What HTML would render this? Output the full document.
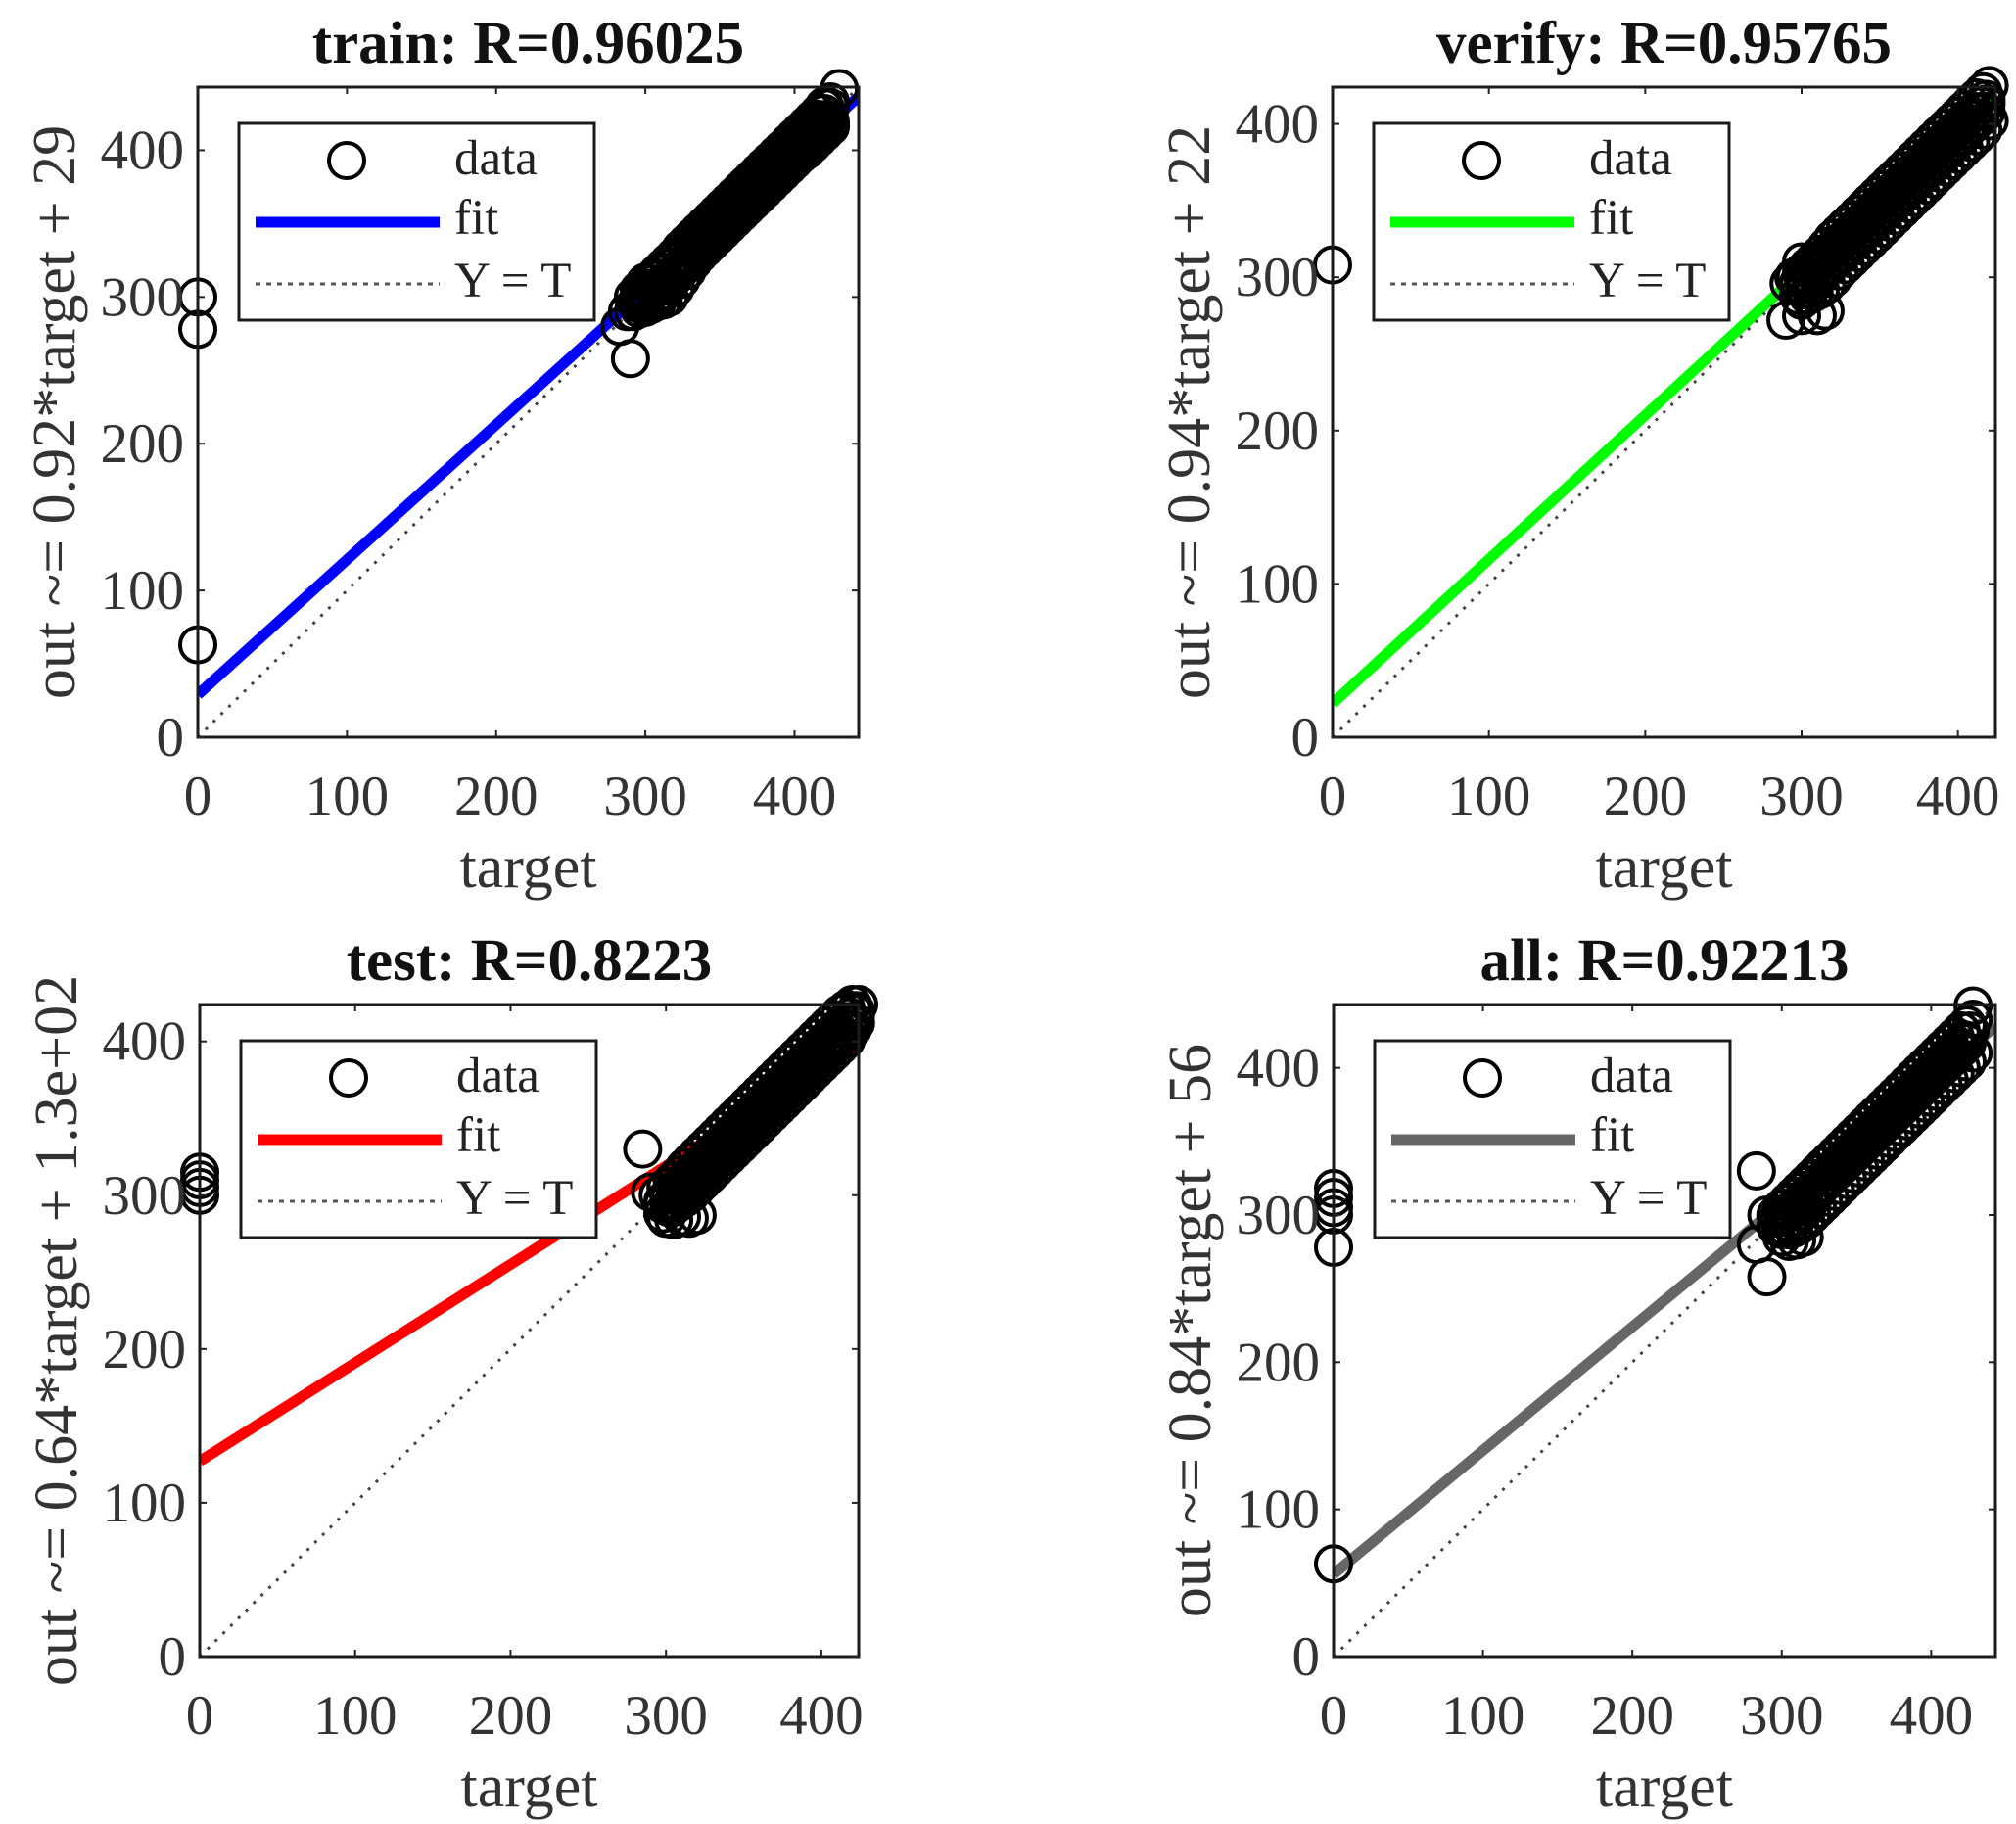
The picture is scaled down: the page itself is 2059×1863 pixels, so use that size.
<!DOCTYPE html>
<html><head><meta charset="utf-8"><style>
html,body{margin:0;padding:0;background:#fff;}
svg{display:block;}
text{font-family:"Liberation Serif",serif;}
</style></head><body>
<svg id="chart" width="2059" height="1863" viewBox="0 0 2059 1863" xmlns="http://www.w3.org/2000/svg"></svg>
<script>
const tickValues = [0, 100, 200, 300, 400];
const panelTitles = ["train: R=0.96025", "verify: R=0.95765", "test: R=0.8223", "all: R=0.92213"];
const yLabels = ["out ~= 0.92*target + 29", "out ~= 0.94*target + 22", "out ~= 0.64*target + 1.3e+02", "out ~= 0.84*target + 56"];
const fitSlopes = [0.92, 0.94, 0.64, 0.84];
const fitIntercepts = [29, 22, 127, 56];
const fitColors = ["#0000ff", "#00ff00", "#ff0000", "#666666"];
const axisMax = [443, 424, 424, 443];

const trainT = [0,0,0,283,290,288,300,430,420,292,296,300,304,308,312,316,320,324,328,332,336,340,344,348,352,356,360,364,368,372,376,380,384,388,392,396,400,404,408,412,416,420,424,292,296,300,304,308,312,316,320,324,328,332,336,340,344,348,352,356,360,364,368,372,376,380,384,388,392,396,400,404,408,412,416,420,424];
const trainO = [300,278,63,280,258,290,305,442,430,300,305,310,312,316,320,324,328,333,337,341,345,349,353,357,361,365,369,373,377,381,385,389,393,397,401,405,409,413,417,421,425,429,433,290,292,293,295,297,298,300,306,312,318,324,329,333,337,341,345,349,353,357,361,365,369,373,377,381,385,389,393,397,400,404,408,412,416];
const trainMidT = [294,298,302,306,310,314,318,322,326,330,334,338,342,346,350,354,358,362,366,370,374,378,382,386,390,394,398,402,406,410,414,418,422];
const trainMidO = [296,300,302,305,308,310,314,318,323,328,333,337,341,345,349,353,357,361,365,369,373,377,381,385,389,393,397,401,405,409,413,417,421];
const trainQT = [296,300,304,308,312,316,320,324,328,332,336,340,344,348,352,356,360,364,368,372,376,380,384,388,392,396,400,404,408,412,416,420,424];
const trainQ1O = [292,294,296,300,304,309,314,319,323,327,331,335,339,343,347,351,355,359,363,367,371,375,379,383,387,391,395,399,403,407,411,415,419];
const trainQ3O = [302,306,309,313,317,321,325,329,333,337,341,345,349,353,357,361,365,369,373,377,381,385,389,393,397,401,405,409,413,417,421,425,429];

const verifyT = [0,290,300,310,315,295,300,292,296,300,304,308,312,316,320,324,328,332,336,340,344,348,352,356,360,364,368,372,376,380,384,388,392,396,400,404,408,412,416,420,300,304,308,312,316,320,324,328,332,336,340,344,348,352,356,360,364,368,372,376,380,384,388,392,396,400,404,408,412,416,420];
const verifyO = [308,272,275,275,278,300,310,296,300,303,307,311,315,320,325,329,333,337,341,345,349,353,357,361,365,369,373,377,381,385,389,393,397,401,405,409,413,417,421,425,285,288,290,292,295,299,304,308,312,316,320,324,328,332,336,340,344,348,352,356,360,364,368,372,376,380,384,388,392,396,402];
const verifyMidT = [298,302,306,310,314,318,322,326,330,334,338,342,346,350,354,358,362,366,370,374,378,382,386,390,394,398,402,406,410,414,418];
const verifyMidO = [295,297,300,303,307,311,315,319,323,327,331,335,339,343,347,351,355,359,363,367,371,375,379,383,387,391,395,399,403,408,413];
const verifyQT = [298,302,306,310,314,318,322,326,330,334,338,342,346,350,354,358,362,366,370,374,378,382,386,390,394,398,402,406,410,414,418];
const verifyQ1O = [288,292,296,300,304,308,312,316,320,324,328,332,336,340,344,348,352,356,360,364,368,372,376,380,384,388,392,396,400,404,408];
const verifyQ3O = [296,300,304,308,312,316,320,324,328,332,336,340,344,348,352,356,360,364,368,372,376,380,384,388,392,396,400,404,408,412,416];

const testT = [0,0,0,0,285,290,300,305,310,315,320,295,300,304,308,312,316,320,324,328,332,336,340,344,348,352,356,360,364,368,372,376,380,384,388,392,396,400,404,408,412,416,420,424,304,308,312,316,320,324,328,332,336,340,344,348,352,356,360,364,368,372,376,380,384,388,392,396,400,404,408,412,416,420];
const testO = [300,305,310,315,330,302,285,284,286,285,287,300,305,309,313,318,322,326,330,334,338,342,346,350,354,358,362,366,370,374,378,382,386,390,394,398,402,406,410,414,418,421,424,424,292,295,298,301,305,309,313,317,321,325,329,333,337,341,345,349,353,357,361,365,369,373,377,381,385,389,393,397,401,408];
const testMidT = [298,302,306,310,314,318,322,326,330,334,338,342,346,350,354,358,362,366,370,374,378,382,386,390,394,398,402,406,410,414,418,422];
const testMidO = [294,297,300,303,307,311,315,319,323,327,331,335,339,343,347,351,355,359,363,367,371,375,379,383,387,391,395,399,403,408,413,418];
const testQT = [298,302,306,310,314,318,322,326,330,334,338,342,346,350,354,358,362,366,370,374,378,382,386,390,394,398,402,406,410,414,418,422];
const testQ1O = [288,292,296,300,304,308,312,316,320,324,328,332,336,340,344,348,352,356,360,364,368,372,376,380,384,388,392,396,400,404,408,412];
const testQ3O = [296,300,304,308,312,316,320,324,328,332,336,340,344,348,352,356,360,364,368,372,376,380,384,388,392,396,400,404,408,412,416,420];

const allT = [0,0,0,0,0,0,283,290,283,290,300,305,310,315,428];
const allO = [318,312,305,300,278,63,330,258,280,300,285,282,283,285,442];
const allBandT = [300,304,308,312,316,320,324,328,332,336,340,344,348,352,356,360,364,368,372,376,380,384,388,392,396,400,404,408,412,416,420,424,428];
const allUpperO = [305,309,313,317,321,325,329,333,337,341,345,349,353,357,361,365,369,373,377,381,385,389,393,397,401,405,409,413,417,421,425,429,433];
const allLowerO = [290,290,291,293,296,300,304,308,312,316,320,324,328,332,336,340,344,348,352,356,360,364,368,372,376,380,384,388,392,396,400,404,410];
const allMidT = [298,302,306,310,314,318,322,326,330,334,338,342,346,350,354,358,362,366,370,374,378,382,386,390,394,398,402,406,410,414,418,422,426];
const allMidO = [298,300,303,306,309,312,316,320,325,330,335,339,343,347,351,355,359,363,367,371,375,379,383,387,391,395,399,403,407,411,415,419,425];
const allQT = [296,300,304,308,312,316,320,324,328,332,336,340,344,348,352,356,360,364,368,372,376,380,384,388,392,396,400,404,408,412,416,420,424];
const allQ1O = [292,293,295,298,302,306,311,316,321,325,329,333,337,341,345,349,353,357,361,365,369,373,377,381,385,389,393,397,401,405,409,413,417];
const allQ3O = [300,304,308,312,316,320,324,328,333,337,341,345,349,353,357,361,365,369,373,377,381,385,389,393,397,401,405,409,413,417,421,425,429];

const pointTargets = [
  trainT.concat(trainMidT, trainQT, trainQT),
  verifyT.concat(verifyMidT, verifyQT, verifyQT),
  testT.concat(testMidT, testQT, testQT),
  allT.concat(allBandT, allBandT, allMidT, allQT, allQT)
];
const pointOutputs = [
  trainO.concat(trainMidO, trainQ1O, trainQ3O),
  verifyO.concat(verifyMidO, verifyQ1O, verifyQ3O),
  testO.concat(testMidO, testQ1O, testQ3O),
  allO.concat(allUpperO, allLowerO, allMidO, allQ1O, allQ3O)
];

const panelBoxes = [
  {L:202, T:89, W:675, H:664},
  {L:1361, T:89, W:677, H:664},
  {L:204, T:1026, W:673, H:666},
  {L:1362, T:1026, W:676, H:666}
];
const panelNames = ["train", "verify", "test", "all"];

const NS = "http://www.w3.org/2000/svg";
const svg = document.getElementById("chart");
function mk(tag, attrs, parent) {
  const e = document.createElementNS(NS, tag);
  for (const k in attrs) e.setAttribute(k, attrs[k]);
  parent.appendChild(e);
  return e;
}

panelBoxes.forEach((b, i) => {
  const nm = panelNames[i];
  const g = mk("g", {}, svg);
  
  
  const mx = axisMax[i];
  const xs = v => b.L + v / mx * b.W;
  const ys = v => b.T + b.H - v / mx * b.H;

  const cp = mk("clipPath", {id: "clip" + i}, g);
  mk("rect", {x: b.L, y: b.T, width: b.W, height: b.H}, cp);

  const plot = mk("g", {"clip-path": "url(#clip" + i + ")"}, g);
  
  

  const fl = mk("line", {x1: xs(0), y1: ys(fitIntercepts[i]), x2: xs(mx), y2: ys(fitSlopes[i] * mx + fitIntercepts[i]), stroke: fitColors[i], "stroke-width": 11}, plot);
  
  

  const yt = mk("line", {x1: xs(0), y1: ys(0), x2: xs(mx), y2: ys(mx), stroke: "#444", "stroke-width": 3, "stroke-dasharray": "3,8"}, plot);
  
  

  const tArr = pointTargets[i], oArr = pointOutputs[i];
  const pg = mk("g", {}, g);
  
  
  const n = Math.min(tArr.length, oArr.length);
  for (let k = 0; k < n; k++) {
    const c = mk("circle", {cx: xs(tArr[k]), cy: ys(oArr[k]), r: 18, fill: "none", stroke: "#000", "stroke-width": 4}, pg);
    
    
  }

  const fr = mk("rect", {x: b.L, y: b.T, width: b.W, height: b.H, fill: "none", stroke: "#1a1a1a", "stroke-width": 3}, g);
  
  

  tickValues.forEach(v => {
    const x = xs(v), y = ys(v);
    mk("line", {x1: x, y1: b.T + b.H, x2: x, y2: b.T + b.H - 7, stroke: "#222", "stroke-width": 2}, g);
    mk("line", {x1: x, y1: b.T, x2: x, y2: b.T + 7, stroke: "#222", "stroke-width": 2}, g);
    mk("line", {x1: b.L, y1: y, x2: b.L + 7, y2: y, stroke: "#222", "stroke-width": 2}, g);
    mk("line", {x1: b.L + b.W, y1: y, x2: b.L + b.W - 7, y2: y, stroke: "#222", "stroke-width": 2}, g);
    const xl = mk("text", {x: x, y: b.T + b.H + 79, "text-anchor": "middle", "font-size": 57, fill: "#333"}, g);
    xl.textContent = v;
    
    
    const yl = mk("text", {x: b.L - 14, y: y + 19, "text-anchor": "end", "font-size": 57, fill: "#333"}, g);
    yl.textContent = v;
    
    
  });

  const tt = mk("text", {x: b.L + b.W / 2, y: b.T - 25, "text-anchor": "middle", "font-size": 61, "font-weight": "bold", fill: "#111"}, g);
  tt.textContent = panelTitles[i];
  
  

  const xt = mk("text", {x: b.L + b.W / 2, y: b.T + b.H + 153, "text-anchor": "middle", "font-size": 62, fill: "#333"}, g);
  xt.textContent = "target";
  
  

  const cy = b.T + b.H / 2, cx = b.L - 126;
  const ytl = mk("text", {x: cx, y: cy, "text-anchor": "middle", "font-size": 62, fill: "#333", transform: "rotate(-90 " + cx + " " + cy + ")"}, g);
  ytl.textContent = yLabels[i];
  
  

  const lg = mk("g", {}, g);
  
  
  const lx = b.L + 42, ly = b.T + 37;
  mk("rect", {x: lx, y: ly, width: 363, height: 201, fill: "#fff", stroke: "#1a1a1a", "stroke-width": 3}, lg);
  const e1 = mk("circle", {cx: lx + 110, cy: ly + 38, r: 18, fill: "none", stroke: "#000", "stroke-width": 4}, lg);
  
  
  const e2 = mk("line", {x1: lx + 17, y1: ly + 101, x2: lx + 205, y2: ly + 101, stroke: fitColors[i], "stroke-width": 11}, lg);
  
  
  const e3 = mk("line", {x1: lx + 17, y1: ly + 164, x2: lx + 205, y2: ly + 164, stroke: "#555", "stroke-width": 3, "stroke-dasharray": "5,6"}, lg);
  
  
  const labels = ["data", "fit", "Y = T"];
  const lys = [ly + 52, ly + 113, ly + 177];
  labels.forEach((s, k) => {
    const t = mk("text", {x: lx + 220, y: lys[k], "font-size": 51, fill: "#222"}, lg);
    t.textContent = s;
    
    
  });
});
</script>
</body></html>
